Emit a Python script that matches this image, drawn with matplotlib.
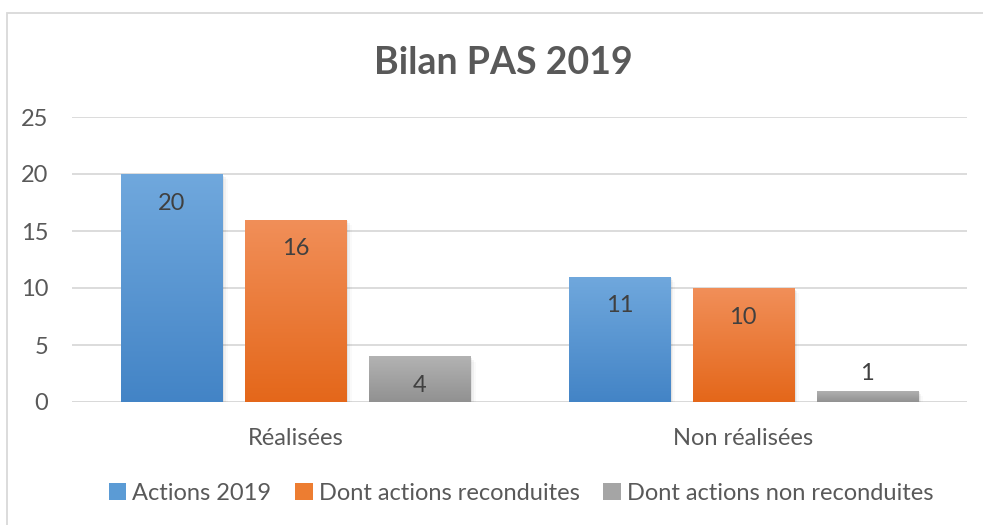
import matplotlib.pyplot as plt
import numpy as np
from matplotlib.colors import LinearSegmentedColormap
from matplotlib.patches import Rectangle

categories = ["Réalisées", "Non réalisées"]
series_names = ["Actions 2019", "Dont actions reconduites", "Dont actions non reconduites"]
actions_2019 = [20, 11]
reconduites = [16, 10]
non_reconduites = [4, 1]
yticks = [0, 5, 10, 15, 20, 25]
title = "Bilan PAS 2019"

# gradient colours (top, bottom) per series
grads = [("#70a8dd", "#4384c6"), ("#f18f59", "#e4671a"), ("#b3b3b3", "#919191")]
mids = ["#5b9bd5", "#ed7d31", "#a5a5a5"]
txt = "#595959"
fs = 17

plt.rcParams['font.family'] = ['Lato', 'DejaVu Sans']

fig = plt.figure(figsize=(9.83, 5.25), dpi=100)
# chart frame
fig.add_artist(Rectangle((7 / 983, -0.1), 1.2, (525 - 13) / 525 + 0.1, transform=fig.transFigure,
                         fill=False, edgecolor="#d9d9d9", linewidth=1.3))

ax = fig.add_axes([72 / 983, 123 / 525, 895 / 983, 285 / 525])
ax.set_yticks(yticks)
ax.yaxis.grid(True, color="#d9d9d9", linewidth=1.3)
ax.set_axisbelow(True)
for s in ax.spines.values():
    s.set_visible(False)
ax.tick_params(axis="y", length=0, labelsize=fs, labelcolor=txt, pad=17)
ax.tick_params(axis="x", length=0, labelsize=fs, labelcolor=txt, pad=19)
ax.set_xticks([0.5, 1.5])
ax.set_xticklabels(categories)

width = 0.226
step = 0.277
data = [actions_2019, reconduites, non_reconduites]
for i, vals in enumerate(data):
    cmap = LinearSegmentedColormap.from_list("g%d" % i, [grads[i][1], grads[i][0]])
    for j, v in enumerate(vals):
        x0 = j + 0.5 + (i - 1) * step - width / 2
        # soft shadow
        for k, a in enumerate([0.06, 0.04, 0.02]):
            ax.add_patch(Rectangle((x0 + 0.004 * (k + 1), -0.15 * (k + 1)), width, v,
                                   facecolor="black", alpha=a, edgecolor="none", zorder=2))
        bar = Rectangle((x0, 0), width, v, facecolor="none", edgecolor="none", zorder=3)
        ax.add_patch(bar)
        im = ax.imshow(np.linspace(0, 1, 256).reshape(-1, 1), cmap=cmap, aspect="auto",
                       extent=(x0, x0 + width, 0, v), origin="lower", zorder=3)
        im.set_clip_path(bar)
        off = -21 if v >= 3 else 12
        ax.annotate(str(v), (x0 + width / 2, v), xytext=(0, off), textcoords="offset points",
                    ha="center", va="center", fontsize=fs, color="#404040", zorder=5)
ax.set_xlim(0, 2)
ax.set_ylim(0, 25)
ax.axhline(0, color="#d9d9d9", linewidth=1.3, zorder=1)

fig.text(503 / 983, 1 - 63 / 525, title, ha="center", va="center", fontsize=27,
         fontweight="bold", color=txt)

handles = [Rectangle((0, 0), 1, 1, facecolor=c, edgecolor="none") for c in mids]
fig.legend(handles, series_names, loc="center", bbox_to_anchor=(521 / 983, 1 - 493 / 525),
           ncol=3, frameon=False, fontsize=fs, labelcolor=txt, handlelength=0.75,
           handleheight=0.75, handletextpad=0.25, columnspacing=1.0)

fig.savefig("out.png", dpi=100)
